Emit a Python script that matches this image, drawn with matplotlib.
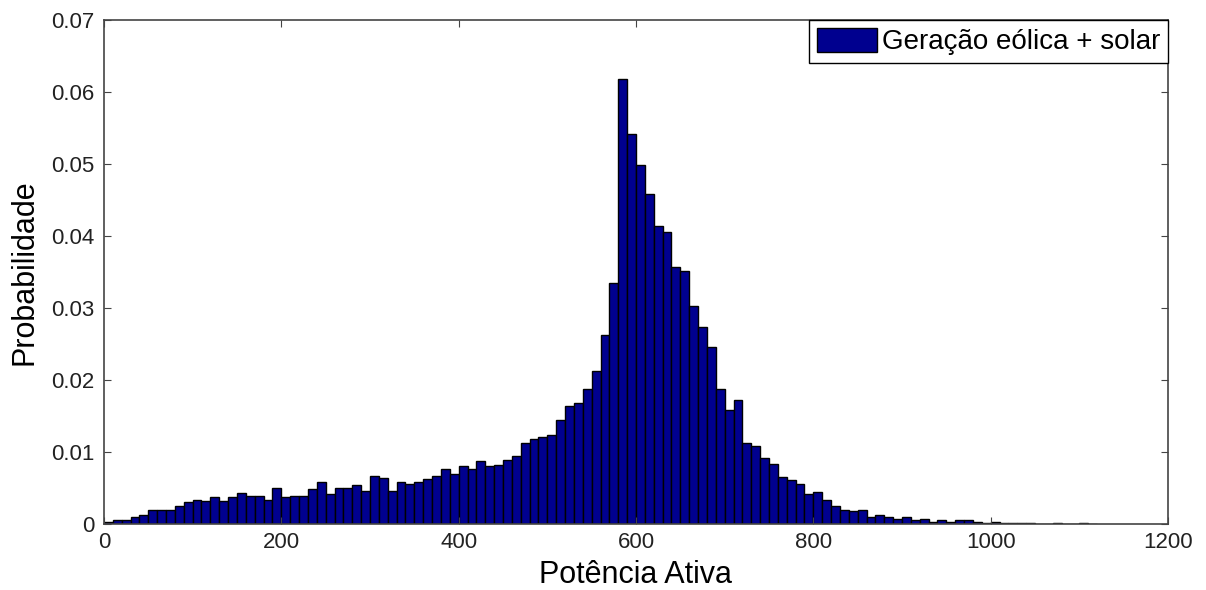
import numpy as np
import matplotlib.pyplot as plt

plt.rcParams['font.family'] = ['Liberation Sans', 'DejaVu Sans']

# histograma: largura de classe 10, de 0 a 1120
bin_width = 10
probabilidade = [
    0.0003, 0.0005, 0.0005, 0.0010, 0.0013, 0.0019, 0.0019, 0.0019, 0.0025, 0.0030,
    0.0034, 0.0032, 0.0038, 0.0032, 0.0038, 0.0043, 0.0039, 0.0039, 0.0034, 0.0050,
    0.0038, 0.0039, 0.0039, 0.0048, 0.0058, 0.0042, 0.0050, 0.0050, 0.0054, 0.0046,
    0.0067, 0.0064, 0.0046, 0.0058, 0.0056, 0.0058, 0.0062, 0.0066, 0.0076, 0.0070,
    0.0081, 0.0076, 0.0087, 0.0081, 0.0082, 0.0089, 0.0094, 0.0113, 0.0118, 0.0121,
    0.0124, 0.0144, 0.0164, 0.0168, 0.0187, 0.0213, 0.0262, 0.0335, 0.0618, 0.0541,
    0.0498, 0.0459, 0.0414, 0.0406, 0.0357, 0.0352, 0.0303, 0.0274, 0.0246, 0.0187,
    0.0158, 0.0172, 0.0113, 0.0109, 0.0091, 0.0083, 0.0065, 0.0061, 0.0055, 0.0042,
    0.0045, 0.0034, 0.0025, 0.0020, 0.0018, 0.0020, 0.0010, 0.0013, 0.0010, 0.0007,
    0.0010, 0.0006, 0.0007, 0.0003, 0.0006, 0.0003, 0.0006, 0.0006, 0.0003, 0.0002,
    0.0003, 0.00015, 0.00015, 0.00015, 0.0001, 0.0, 0.0, 0.0001, 0.0, 0.0,
    0.0001, 0.0,
]
x_ticks = [0, 200, 400, 600, 800, 1000, 1200]
y_ticks = [0, 0.01, 0.02, 0.03, 0.04, 0.05, 0.06, 0.07]
y_ticklabels = ['0', '0.01', '0.02', '0.03', '0.04', '0.05', '0.06', '0.07']

edges = np.arange(len(probabilidade)) * bin_width

fig = plt.figure(figsize=(12.06, 5.9), dpi=100)
ax = fig.add_axes([0.0862, 0.1119, 0.8823, 0.8542])

ax.bar(edges, probabilidade, width=bin_width, align='edge',
       color='#00008F', edgecolor='black', linewidth=1.0,
       label='Geração eólica + solar')

ax.set_xlim(0, 1200)
ax.set_ylim(0, 0.07)
ax.set_xticks(x_ticks)
ax.set_yticks(y_ticks)
ax.set_yticklabels(y_ticklabels)
ax.tick_params(direction='in', top=True, right=True, labelsize=16, length=5,
               color='#444444', labelcolor='#222222')
ax.tick_params(axis='x', pad=6)
ax.tick_params(axis='y', pad=7)
for s in ax.spines.values():
    s.set_color('#444444')
    s.set_linewidth(1.2)

ax.set_xlabel('Potência Ativa', fontsize=22, labelpad=5)
ax.set_ylabel('Probabilidade', fontsize=22, labelpad=8)

leg = ax.legend(loc='upper right', fontsize=20, fancybox=False, framealpha=1,
                borderaxespad=0, handlelength=2.15, handleheight=0.95,
                borderpad=0.28, handletextpad=0.18)
leg.get_frame().set_edgecolor('black')
leg.get_frame().set_linewidth(1.0)

fig.savefig('out.png', dpi=100)
